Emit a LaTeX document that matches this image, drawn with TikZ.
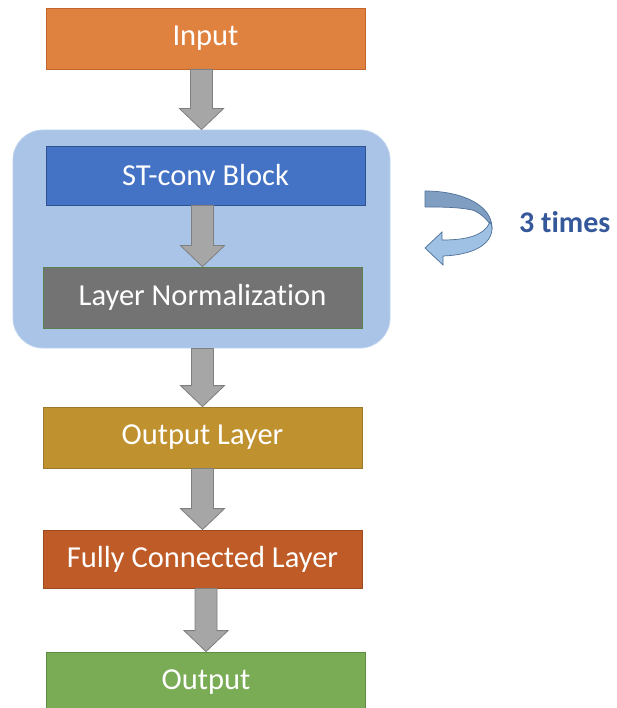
\documentclass[tikz,border=0pt]{standalone}
\usepackage{fontspec}
\setmainfont{Carlito}[Ligatures=NoCommon]
\usetikzlibrary{calc}
\definecolor{inorange}{HTML}{E0823F}
\definecolor{inorangeB}{HTML}{C0652B}
\definecolor{stblue}{HTML}{4472C4}
\definecolor{stblueB}{HTML}{2F528F}
\definecolor{lngray}{HTML}{737373}
\definecolor{lngrayB}{HTML}{5E7F4E}
\definecolor{olgold}{HTML}{BF912F}
\definecolor{olgoldB}{HTML}{9A7A28}
\definecolor{fcrust}{HTML}{BE5B26}
\definecolor{fcrustB}{HTML}{9C4A1E}
\definecolor{outgreen}{HTML}{7AAB55}
\definecolor{outgreenB}{HTML}{5E8C40}
\definecolor{groupblue}{HTML}{A9C4E6}
\definecolor{groupblueB}{HTML}{BDD2EE}
\definecolor{arrowgray}{HTML}{A6A6A6}
\definecolor{arrowgrayB}{HTML}{7F7F7F}
\definecolor{loopback}{HTML}{7F9EC2}
\definecolor{loopfront}{HTML}{9FC1E4}
\definecolor{loopedge}{HTML}{4E6F97}
\definecolor{labelblue}{HTML}{35589A}
\tikzset{
  layerbox/.style={rectangle, minimum width=319pt, minimum height=61pt,
    text=white, line width=0.8pt, inner sep=0pt,
    font=\fontsize{30.5}{35}\selectfont},
  groupbox/.style={rectangle, rounded corners=30pt, fill=groupblue,
    draw=groupblueB, line width=0.8pt, minimum width=377pt, minimum height=218pt},
  blockarrow/.style={fill=arrowgray, draw=arrowgrayB, line width=0.8pt}
}
% gray block arrow from the bottom of one node to the top of another
\newcommand{\flowarrow}[2]{%
  \draw[blockarrow]
    ($(#1.south -| #2.north)+(-11,0)$) --
    ($(#2.north)+(-11,-21)$) -- ($(#2.north)+(-22,-21)$) --
    (#2.north) --
    ($(#2.north)+(22,-21)$) -- ($(#2.north)+(11,-21)$) --
    ($(#1.south -| #2.north)+(11,0)$) -- cycle;}
\begin{document}
\begin{tikzpicture}[x={(1pt,0)}, y={(0,-1pt)}]
\useasboundingbox (0,0) rectangle (616,708);
\clip (0,0) rectangle (616,708);

\node[groupbox] (group) at (201.5,239) {};

\node[layerbox, fill=inorange, draw=inorangeB] (input) at (205.5,38.5) {Input};
\node[layerbox, fill=stblue, draw=stblueB, minimum height=59pt] (stconv) at (205.5,175.5) {ST-conv Block};
\node[layerbox, fill=lngray, draw=lngrayB] (norm) at (202.5,297.5) {Layer Normalization};
\node[layerbox, fill=olgold, draw=olgoldB] (outlayer) at (202.5,437.5) {Output Layer};
\node[layerbox, fill=fcrust, draw=fcrustB, minimum height=58pt] (fc) at (202.5,559) {Fully Connected Layer};
\node[layerbox, fill=outgreen, draw=outgreenB, minimum height=60pt] (output) at (206,682) {Output};

\flowarrow{input}{group}
\flowarrow{stconv}{norm}
\flowarrow{group}{outlayer}
\flowarrow{outlayer}{fc}
\flowarrow{fc}{output}

% curved "repeat" arrow: back face on top, front face with the head below
\coordinate (loopstart) at (425,191);
\draw[fill=loopback, draw=loopedge, line width=0.7pt]
  (loopstart) .. controls (462,191) and (492,205) .. (492,228)
  .. controls (490,222) and (480,212) .. (472,210)
  .. controls (458,207) and (440,207) .. (425,207) -- cycle;
\draw[fill=loopfront, draw=loopedge, line width=0.7pt]
  (492,228) .. controls (492,245) and (472,255) .. (443,256)
  -- (443,265) -- (425,248) -- (442,232) -- (442,240)
  .. controls (466,240) and (484,236) .. (490,222)
  .. controls (491,224) and (492,226) .. (492,228) -- cycle;

\node[text=labelblue, font=\fontsize{30}{35}\selectfont\bfseries, anchor=west, inner sep=0pt]
  (times) at (519,222) {3 times};
\end{tikzpicture}
\end{document}
